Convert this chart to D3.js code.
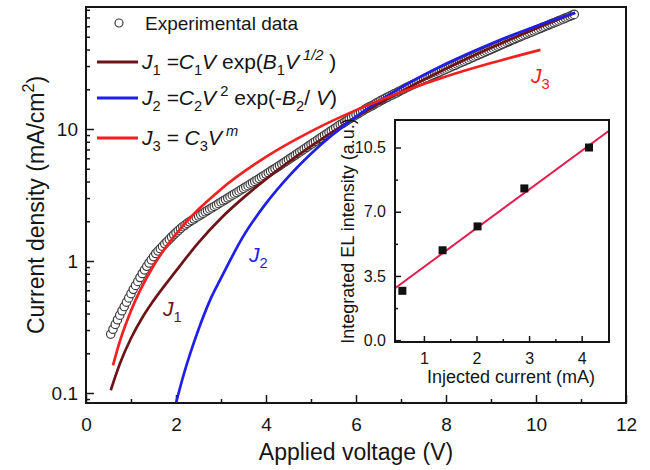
<!DOCTYPE html>
<html>
<head>
<meta charset="utf-8">
<title>J-V curves</title>
<script src="https://d3js.org/d3.v7.min.js"></script>
<style>
  body { margin: 0; background: #fff; }
  svg text { font-family: "Liberation Sans", Arial, sans-serif; fill: #151515; }
  .axis path { display: none; }
  .axis line { stroke: #151515; stroke-width: 1.5px; }
</style>
</head>
<body>
<div id="chart"></div>
<script>
// experimental J-V points [V, mA/cm2]
const expPoints = [
  [0.55, 0.279], [0.60, 0.304], [0.65, 0.331], [0.70, 0.359], [0.75, 0.389], [0.80, 0.420], [0.85, 0.452],
  [0.90, 0.488], [0.95, 0.525], [1.00, 0.566], [1.05, 0.610], [1.10, 0.653], [1.15, 0.700], [1.20, 0.750],
  [1.25, 0.804], [1.30, 0.857], [1.35, 0.912], [1.40, 0.966], [1.45, 1.02], [1.50, 1.08], [1.55, 1.14],
  [1.60, 1.19], [1.65, 1.24], [1.70, 1.29], [1.75, 1.35], [1.80, 1.40], [1.85, 1.46], [1.90, 1.52],
  [1.95, 1.58], [2.00, 1.64], [2.05, 1.70], [2.10, 1.76], [2.15, 1.82], [2.20, 1.87], [2.25, 1.93],
  [2.30, 1.98], [2.35, 2.03], [2.40, 2.08], [2.45, 2.14], [2.50, 2.19], [2.55, 2.24], [2.60, 2.30],
  [2.65, 2.36], [2.70, 2.41], [2.75, 2.47], [2.80, 2.53], [2.85, 2.59], [2.90, 2.65], [2.95, 2.72],
  [3.00, 2.79], [3.05, 2.86], [3.10, 2.92], [3.15, 3.00], [3.20, 3.07], [3.25, 3.15], [3.30, 3.22],
  [3.35, 3.30], [3.40, 3.38], [3.45, 3.47], [3.50, 3.55], [3.55, 3.64], [3.60, 3.72], [3.65, 3.82],
  [3.70, 3.91], [3.75, 4.01], [3.80, 4.10], [3.85, 4.21], [3.90, 4.32], [3.95, 4.43], [4.00, 4.54],
  [4.05, 4.66], [4.10, 4.78], [4.15, 4.90], [4.20, 5.02], [4.25, 5.15], [4.30, 5.28], [4.35, 5.42],
  [4.40, 5.56], [4.45, 5.71], [4.50, 5.86], [4.55, 6.03], [4.60, 6.18], [4.65, 6.35], [4.70, 6.52],
  [4.75, 6.70], [4.80, 6.87], [4.85, 7.06], [4.90, 7.24], [4.95, 7.45], [5.00, 7.64], [5.05, 7.85],
  [5.10, 8.05], [5.15, 8.28], [5.20, 8.49], [5.25, 8.73], [5.30, 8.95], [5.35, 9.20], [5.40, 9.44],
  [5.45, 9.70], [5.50, 9.95], [5.55, 10.2], [5.60, 10.5], [5.65, 10.8], [5.70, 11.0], [5.75, 11.3],
  [5.80, 11.6], [5.85, 11.9], [5.90, 12.2], [5.95, 12.5], [6.00, 12.8], [6.05, 13.1], [6.10, 13.4],
  [6.15, 13.7], [6.20, 14.1], [6.25, 14.4], [6.30, 14.7], [6.35, 15.0], [6.40, 15.3], [6.45, 15.7],
  [6.50, 16.0], [6.55, 16.4], [6.60, 16.7], [6.65, 17.1], [6.70, 17.4], [6.75, 17.8], [6.80, 18.1],
  [6.85, 18.5], [6.90, 18.8], [6.95, 19.2], [7.00, 19.6], [7.05, 20.0], [7.10, 20.4], [7.15, 20.8],
  [7.20, 21.2], [7.25, 21.6], [7.30, 22.0], [7.35, 22.4], [7.40, 22.8], [7.45, 23.2], [7.50, 23.7],
  [7.55, 24.1], [7.60, 24.5], [7.65, 25.0], [7.70, 25.5], [7.75, 25.9], [7.80, 26.4], [7.85, 26.9],
  [7.90, 27.4], [7.95, 27.9], [8.00, 28.4], [8.05, 28.9], [8.10, 29.4], [8.15, 29.9], [8.20, 30.4],
  [8.25, 31.0], [8.30, 31.5], [8.35, 32.1], [8.40, 32.6], [8.45, 33.2], [8.50, 33.7], [8.55, 34.4],
  [8.60, 34.9], [8.65, 35.6], [8.70, 36.1], [8.75, 36.8], [8.80, 37.4], [8.85, 38.1], [8.90, 38.7],
  [8.95, 39.4], [9.00, 40.1], [9.05, 40.8], [9.10, 41.5], [9.15, 42.3], [9.20, 43.0], [9.25, 43.8],
  [9.30, 44.5], [9.35, 45.3], [9.40, 46.0], [9.45, 46.9], [9.50, 47.6], [9.55, 48.5], [9.60, 49.3],
  [9.65, 50.1], [9.70, 50.9], [9.75, 51.8], [9.80, 52.6], [9.85, 53.5], [9.90, 54.3], [9.95, 55.2],
  [10.00, 56.1], [10.05, 57.0], [10.10, 57.9], [10.15, 58.9], [10.20, 59.8], [10.25, 60.8], [10.30, 61.8],
  [10.35, 62.8], [10.40, 63.8], [10.45, 64.9], [10.50, 65.9], [10.55, 67.0], [10.60, 68.1], [10.65, 69.2],
  [10.70, 70.3], [10.75, 71.4], [10.80, 72.6], [10.85, 73.8]
];

// fitted curves
const j1Voltage = [0.55, 0.75, 1.0, 1.25, 1.5, 2.0, 2.5, 3.0, 3.5, 4.0, 5.0, 6.0, 7.0, 8.0, 9.0, 10.0, 10.87];
const j1Current = [0.105, 0.166, 0.260, 0.372, 0.501, 0.841, 1.38, 2.11, 3.02, 4.17, 7.41, 12.3, 19.2, 28.6, 41.2, 57.7, 75.9];
const j2Voltage = [2.0, 2.1, 2.2, 2.35, 2.5, 2.75, 3.0, 3.5, 4.0, 4.5, 5.0, 6.0, 7.0, 8.0, 9.0, 10.0, 10.87];
const j2Current = [0.084, 0.113, 0.149, 0.216, 0.303, 0.499, 0.741, 1.55, 2.73, 4.36, 6.50, 12.4, 20.6, 31.2, 44.3, 60.1, 75.9];
const j3Voltage = [0.6, 0.75, 1.0, 1.5, 2.0, 3.0, 4.0, 5.0, 6.0, 7.0, 8.0, 9.0, 10.1];
const j3Current = [0.162, 0.245, 0.42, 0.92, 1.60, 3.50, 6.15, 9.6, 13.9, 19.0, 25.0, 31.6, 39.8];

const xTicks = [0, 2, 4, 6, 8, 10, 12];
const xMinor = [1, 3, 5, 7, 9, 11];
const yTicks = [0.1, 1, 10];
const yMinor = [0.09, 0.2, 0.3, 0.4, 0.5, 0.6, 0.7, 0.8, 0.9, 2, 3, 4, 5, 6, 7, 8, 9, 20, 30, 40, 50, 60, 70, 80];

// inset: EL intensity vs injected current
const insetCurrent = [0.59, 1.355, 2.02, 2.91, 4.14];
const insetIntensity = [2.69, 4.9, 6.2, 8.27, 10.5];
const fitIntercept = 1.88;
const fitSlope = 2.11;
const insetXTicks = [1, 2, 3, 4];
const insetXMinor = [1.5, 2.5, 3.5];
const insetYTicks = [0, 3.5, 7, 10.5];
const insetYMinor = [1.75, 5.25, 8.75];

const colJ1 = "#6e1418", colJ2 = "#1f1fe8", colJ3 = "#f22020";

const W = 650, H = 470;
const margin = {top: 7, left: 86, right: 24, bottom: 67};
const width = W - margin.left - margin.right;
const height = H - margin.top - margin.bottom;

const svg = d3.select("#chart").append("svg")
  .attr("width", W).attr("height", H);
const g = svg.append("g").attr("transform", `translate(${margin.left},${margin.top})`);

const x = d3.scaleLinear().domain([0, 12]).range([0, width]);
const y = d3.scaleLog().domain([0.084, 84]).range([height, 0]);

svg.append("defs").append("clipPath").attr("id", "plotclip")
  .append("rect").attr("width", width).attr("height", height);

// axes, ticks pointing inward
g.append("g").attr("class", "axis").attr("transform", `translate(0,${height})`)
  .call(d3.axisBottom(x).tickValues(xTicks).tickSize(-8).tickPadding(15).tickFormat(d3.format("d")))
  .selectAll("text").style("font-size", "19px");
g.append("g").attr("class", "axis").attr("transform", `translate(0,${height})`)
  .call(d3.axisBottom(x).tickValues(xMinor).tickSize(-4).tickFormat(""));
g.append("g").attr("class", "axis")
  .call(d3.axisLeft(y).tickValues(yTicks).tickSize(-8).tickPadding(8).tickFormat(d => d === 0.1 ? "0.1" : d3.format("d")(d)))
  .selectAll("text").style("font-size", "19px");
g.append("g").attr("class", "axis")
  .call(d3.axisLeft(y).tickValues(yMinor).tickSize(-4).tickFormat(""));

const plot = g.append("g").attr("clip-path", "url(#plotclip)");

// experimental data, open circles drawn left to right
plot.selectAll("circle.exp").data(expPoints).enter().append("circle")
  .attr("class", "exp")
  .attr("cx", d => x(d[0])).attr("cy", d => y(d[1])).attr("r", 4.2)
  .attr("fill", "#fff").attr("stroke", "#3c3c3c").attr("stroke-width", 1.2);

const line = d3.line().x(d => x(d.v)).y(d => y(d.j)).curve(d3.curveMonotoneX);
const fits = [
  {v: j1Voltage, j: j1Current, c: colJ1},
  {v: j2Voltage, j: j2Current, c: colJ2},
  {v: j3Voltage, j: j3Current, c: colJ3}
];
fits.forEach(f => {
  plot.append("path")
    .datum(f.v.map((v, i) => ({v, j: f.j[i]})))
    .attr("d", line)
    .attr("fill", "none").attr("stroke", f.c).attr("stroke-width", 2.7);
});

// frame
g.append("rect").attr("width", width).attr("height", height)
  .attr("fill", "none").attr("stroke", "#151515").attr("stroke-width", 2);

// text with italic / sub / sup pieces
function richText(sel, parts, size) {
  const t = sel.append("text").style("font-size", size + "px");
  let shift = 0;
  parts.forEach(p => {
    const s = t.append("tspan").text(p.t);
    let target = 0;
    if (p.sub) target = size * 0.3;
    if (p.sup) target = -size * 0.42;
    s.attr("dy", target - shift);
    shift = target;
    if (p.sub || p.sup) s.style("font-size", (size * 0.7) + "px");
    if (p.i) s.style("font-style", "italic");
  });
  return t;
}

// axis titles
svg.append("text").attr("x", margin.left + width / 2).attr("y", 460)
  .attr("text-anchor", "middle").style("font-size", "23px").text("Applied voltage (V)");
richText(svg, [{t: "Current density (mA/cm"}, {t: "2", sup: true}, {t: ")"}], 23)
  .attr("text-anchor", "middle").attr("transform", "translate(44,205) rotate(-90)");

// curve labels
richText(svg, [{t: "J", i: true}, {t: "1", sub: true}], 21)
  .attr("x", 163).attr("y", 316).selectAll("tspan").style("fill", colJ1);
richText(svg, [{t: "J", i: true}, {t: "2", sub: true}], 21)
  .attr("x", 249).attr("y", 262).selectAll("tspan").style("fill", colJ2);
richText(svg, [{t: "J", i: true}, {t: "3", sub: true}], 21)
  .attr("x", 531).attr("y", 83).selectAll("tspan").style("fill", colJ3);

// legend
svg.append("circle").attr("cx", 119).attr("cy", 23).attr("r", 4)
  .attr("fill", "#fff").attr("stroke", "#3c3c3c").attr("stroke-width", 1.2);
svg.append("text").attr("x", 145).attr("y", 30).style("font-size", "19px").text("Experimental data");

const legendRows = [
  {y: 62, c: colJ1, parts: [{t: "J", i: true}, {t: "1", sub: true}, {t: " =C", i: true}, {t: "1", sub: true},
    {t: "V", i: true}, {t: " exp("}, {t: "B", i: true}, {t: "1", sub: true}, {t: "V", i: true},
    {t: " 1/2", sup: true, i: true}, {t: " )"}]},
  {y: 98, c: colJ2, parts: [{t: "J", i: true}, {t: "2", sub: true}, {t: " =C", i: true}, {t: "2", sub: true},
    {t: "V", i: true}, {t: " 2", sup: true}, {t: " exp(-"}, {t: "B", i: true}, {t: "2", sub: true},
    {t: "/ "}, {t: "V", i: true}, {t: ")"}]},
  {y: 138, c: colJ3, parts: [{t: "J", i: true}, {t: "3", sub: true}, {t: " = C", i: true}, {t: "3", sub: true},
    {t: "V", i: true}, {t: " m", sup: true, i: true}]}
];
legendRows.forEach(r => {
  svg.append("line").attr("x1", 97).attr("x2", 138).attr("y1", r.y).attr("y2", r.y)
    .attr("stroke", r.c).attr("stroke-width", 2.8);
  richText(svg, r.parts, 21).attr("x", 142).attr("y", r.y + 7);
});

// inset
const inset = {x: 395, y: 120, w: 214, h: 222};
const ig = svg.append("g").attr("transform", `translate(${inset.x},${inset.y})`);
ig.append("rect").attr("width", inset.w).attr("height", inset.h).attr("fill", "#fff");
const ix = d3.scaleLinear().domain([0.45, 4.52]).range([0, inset.w]);
const iy = d3.scaleLinear().domain([-0.1, 12]).range([inset.h, 0]);

ig.append("g").attr("class", "axis").attr("transform", `translate(0,${inset.h})`)
  .call(d3.axisBottom(ix).tickValues(insetXTicks).tickSize(-6).tickPadding(11).tickFormat(d3.format("d")))
  .selectAll("text").style("font-size", "16px");
ig.append("g").attr("class", "axis").attr("transform", `translate(0,${inset.h})`)
  .call(d3.axisBottom(ix).tickValues(insetXMinor).tickSize(-3).tickFormat(""));
ig.append("g").attr("class", "axis")
  .call(d3.axisLeft(iy).tickValues(insetYTicks).tickSize(-6).tickPadding(9).tickFormat(d3.format(".1f")))
  .selectAll("text").style("font-size", "16px");
ig.append("g").attr("class", "axis")
  .call(d3.axisLeft(iy).tickValues(insetYMinor).tickSize(-3).tickFormat(""));

const fitLine = ix.domain().map(c => ({c, e: fitIntercept + fitSlope * c}));
ig.append("path").datum(fitLine)
  .attr("d", d3.line().x(d => ix(d.c)).y(d => iy(d.e)))
  .attr("stroke", "#e41b4c").attr("stroke-width", 2).attr("fill", "none");

ig.selectAll("rect.pt").data(insetCurrent.map((c, i) => ({c, e: insetIntensity[i]})))
  .enter().append("rect").attr("class", "pt")
  .attr("x", d => ix(d.c) - 4).attr("y", d => iy(d.e) - 4)
  .attr("width", 8).attr("height", 8).attr("fill", "#111");

ig.append("rect").attr("width", inset.w).attr("height", inset.h)
  .attr("fill", "none").attr("stroke", "#151515").attr("stroke-width", 2);

ig.append("text").attr("x", inset.w / 2 + 9).attr("y", 263)
  .attr("text-anchor", "middle").style("font-size", "18px").text("Injected current (mA)");
ig.append("text").attr("transform", `translate(-41,${inset.h / 2}) rotate(-90)`)
  .attr("text-anchor", "middle").style("font-size", "18px").text("Integrated EL intensity (a.u.)");
</script>
</body>
</html>
